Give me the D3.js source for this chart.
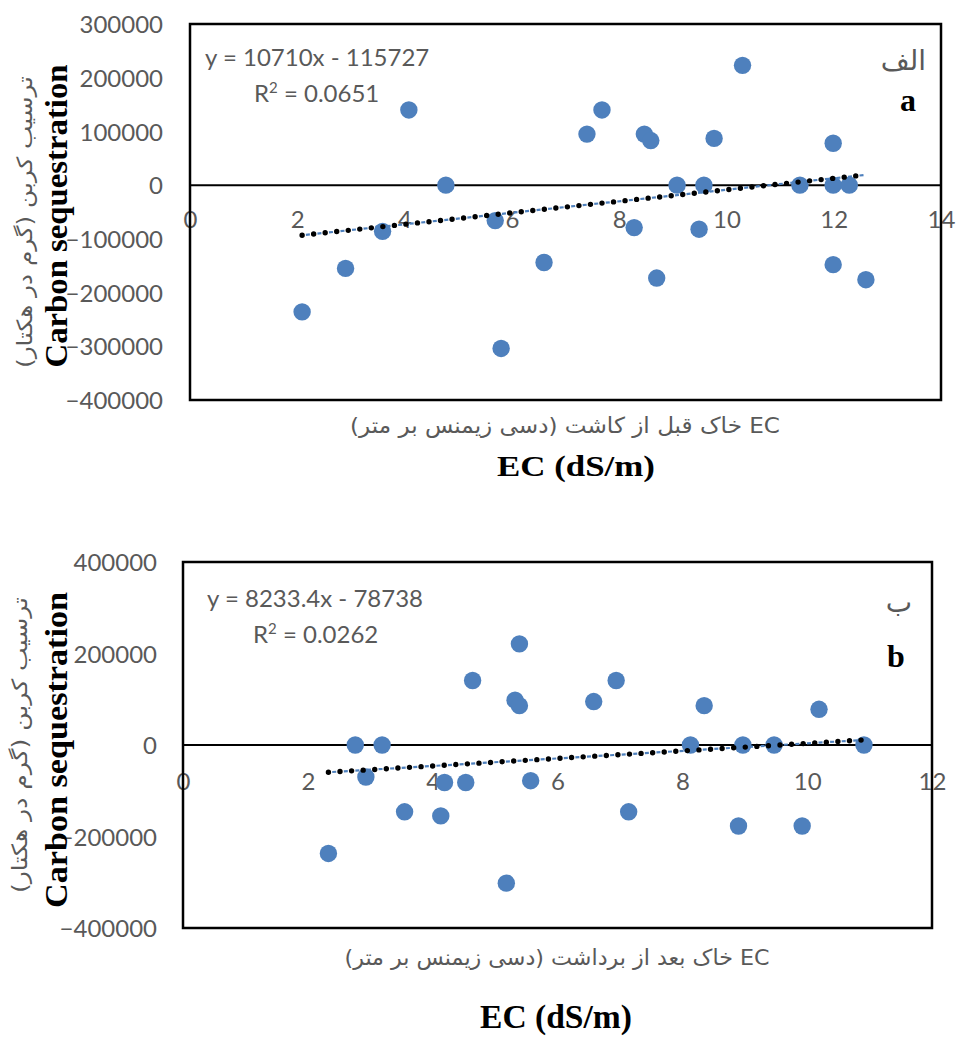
<!DOCTYPE html>
<html>
<head>
<meta charset="utf-8">
<script src="https://cdn.jsdelivr.net/npm/d3@7"></script>
<style>
  html, body { margin: 0; padding: 0; background: #fff; }
  svg { display: block; }
</style>
</head>
<body>
<script>
// ---------- DATA ----------
// Panel a: EC before planting (dS/m) vs carbon sequestration
const ecBefore = [2.09, 2.90, 3.59, 4.08, 4.77, 5.69, 5.80, 6.60, 7.40, 7.68, 8.28, 8.47, 8.59, 8.70, 9.08, 9.49, 9.58, 9.77, 10.30, 11.37, 11.99, 11.99, 11.99, 12.29, 12.60];
const seqBefore = [-236000, -155000, -86000, 140000, 0, -66000, -304000, -144000, 95000, 140000, -79000, 95000, 83000, -173000, 0, -82000, 0, 87000, 223000, 0, 78000, 0, -148000, 0, -176000];
// Panel b: EC after harvest (dS/m) vs carbon sequestration
const ecAfter = [2.33, 2.76, 2.93, 3.19, 3.55, 4.13, 4.19, 4.53, 4.64, 5.18, 5.32, 5.39, 5.39, 5.57, 6.58, 6.94, 7.14, 8.13, 8.35, 8.90, 8.97, 9.47, 9.92, 10.19, 10.91];
const seqAfter = [-237000, 0, -70000, 0, -146000, -155000, -82000, -82000, 141000, -302000, 98000, 221000, 86000, -78000, 95000, 141000, -146000, 0, 86000, -177000, 0, 0, -177000, 78000, 0];

const xTicksA = [0, 2, 4, 6, 8, 10, 12, 14];
const yTicksA = [-400000, -300000, -200000, -100000, 0, 100000, 200000, 300000];
const xTicksB = [0, 2, 4, 6, 8, 10, 12];
const yTicksB = [-400000, -200000, 0, 200000, 400000];

// trendline coefficients (as printed on the chart)
const trendA = { slope: 10710, intercept: -115727, eq: "y = 10710x - 115727", r2: "0.0651" };
const trendB = { slope: 8233.4, intercept: -78738, eq: "y = 8233.4x - 78738", r2: "0.0262" };

const yTitleFa = "ترسیب کربن (گرم در هکتار)";
const yTitleEn = "Carbon sequestration";
const xTitleFaA = "EC خاک قبل از کاشت (دسی زیمنس بر متر)";
const xTitleFaB = "EC خاک بعد از برداشت (دسی زیمنس بر متر)";
const xTitleEn = "EC (dS/m)";

// ---------- DRAW ----------
const W = 956, H = 1037;
const svg = d3.select("body").append("svg").attr("width", W).attr("height", H);

const GRAY = "#595959";
const BLUE = "#4e80bd";
const NUM_FONT = "Lato, 'Open Sans', sans-serif";
const FA_FONT = "'DejaVu Sans', 'Noto Sans', sans-serif";
const SERIF = "'Liberation Serif', 'DejaVu Serif', serif";

function drawPanel(cfg) {
  const g = svg.append("g");
  const x = d3.scaleLinear().domain(d3.extent(cfg.xTicks)).range([cfg.left, cfg.right]);
  const y = d3.scaleLinear().domain(d3.extent(cfg.yTicks)).range([cfg.bottom, cfg.top]);

  // y tick labels
  const yAxis = d3.axisLeft(y).tickValues(cfg.yTicks).tickSize(0).tickPadding(cfg.yPad)
    .tickFormat(d3.format("d"));
  const ya = g.append("g").attr("transform", `translate(${cfg.left},0)`).call(yAxis);
  ya.select(".domain").remove();
  ya.selectAll("text").attr("font-family", NUM_FONT).attr("font-size", 24)
    .attr("fill", GRAY).attr("dy", "0.36em");

  // x tick labels (at y = 0)
  const xAxis = d3.axisBottom(x).tickValues(cfg.xTicks).tickSize(0).tickPadding(cfg.xPad)
    .tickFormat(d3.format("d"));
  const xa = g.append("g").attr("transform", `translate(0,${y(0)})`).call(xAxis);
  xa.select(".domain").remove();
  xa.selectAll("text").attr("font-family", NUM_FONT).attr("font-size", 24)
    .attr("fill", GRAY);

  // zero line
  g.append("line").attr("x1", cfg.left).attr("x2", cfg.right)
    .attr("y1", y(0)).attr("y2", y(0)).attr("stroke", "#000").attr("stroke-width", 2);

  // plot border
  g.append("rect").attr("x", cfg.left).attr("y", cfg.top)
    .attr("width", cfg.right - cfg.left).attr("height", cfg.bottom - cfg.top)
    .attr("fill", "none").attr("stroke", "#000").attr("stroke-width", 2.5);

  // points
  const pts = cfg.xs.map((v, i) => ({ x: v, y: cfg.ys[i] }));
  g.append("g").selectAll("circle").data(pts).join("circle")
    .attr("cx", d => x(d.x)).attr("cy", d => y(d.y)).attr("r", 8.7)
    .attr("fill", BLUE);

  // trendline
  const x0 = d3.min(cfg.xs), x1 = d3.max(cfg.xs);
  const tl = [x0, x1].map(v => ({ x: v, y: cfg.trend.slope * v + cfg.trend.intercept }));
  const line = d3.line().x(d => x(d.x)).y(d => y(d.y));
  g.append("path").attr("d", line(tl)).attr("fill", "none")
    .attr("stroke", BLUE).attr("stroke-width", 2.2).attr("stroke-dasharray", "4 7.6")
    .attr("stroke-dashoffset", -3.8);
  g.append("path").attr("d", line(tl)).attr("fill", "none")
    .attr("stroke", "#000").attr("stroke-width", 5.4).attr("stroke-linecap", "round")
    .attr("stroke-dasharray", "0 11.6");

  // equation
  g.append("text").attr("x", cfg.eqX).attr("y", cfg.eqY).text(cfg.trend.eq)
    .attr("font-family", NUM_FONT).attr("font-size", 24).attr("fill", GRAY);
  const r2 = g.append("text").attr("x", cfg.r2X).attr("y", cfg.eqY + 36)
    .attr("font-family", NUM_FONT).attr("font-size", 24).attr("fill", GRAY);
  r2.append("tspan").text("R");
  r2.append("tspan").text("2").attr("font-size", 15).attr("dy", -9);
  r2.append("tspan").text(" = " + cfg.trend.r2).attr("dy", 9);

  // panel labels
  g.append("text").attr("x", cfg.faLabelX).attr("y", cfg.faLabelY).text(cfg.faLabel)
    .attr("text-anchor", "end").attr("font-family", FA_FONT).attr("font-size", 28)
    .attr("fill", GRAY);
  g.append("text").attr("x", cfg.enLabelX).attr("y", cfg.enLabelY).text(cfg.enLabel)
    .attr("text-anchor", "middle").attr("font-family", SERIF).attr("font-weight", "bold")
    .attr("font-size", 32).attr("fill", "#000");

  // y titles
  g.append("text").attr("transform", `translate(${cfg.yFaX},${cfg.yFaCy}) rotate(-90)`)
    .attr("text-anchor", "middle").attr("direction", "rtl").text(yTitleFa)
    .attr("font-family", FA_FONT).attr("font-size", 21).attr("fill", GRAY)
    .attr("textLength", cfg.yFaLen).attr("lengthAdjust", "spacingAndGlyphs");
  g.append("text").attr("transform", `translate(${cfg.yEnX},${cfg.yEnCy}) rotate(-90)`)
    .attr("text-anchor", "middle").text(yTitleEn)
    .attr("font-family", SERIF).attr("font-weight", "bold").attr("font-size", 31).attr("fill", "#000")
    .attr("textLength", cfg.yEnLen).attr("lengthAdjust", "spacingAndGlyphs");

  // x titles
  g.append("text").attr("x", cfg.xFaCx).attr("y", cfg.xFaY).attr("text-anchor", "middle")
    .attr("direction", "rtl")
    .text(cfg.xTitleFa).attr("font-family", FA_FONT).attr("font-size", 22).attr("fill", GRAY)
    .attr("textLength", cfg.xFaLen).attr("lengthAdjust", "spacingAndGlyphs");
  g.append("text").attr("x", cfg.xEnCx).attr("y", cfg.xEnY).attr("text-anchor", "middle")
    .text(xTitleEn).attr("font-family", SERIF).attr("font-weight", "bold")
    .attr("font-size", cfg.xEnSize).attr("fill", "#000")
    .attr("textLength", cfg.xEnLen).attr("lengthAdjust", "spacingAndGlyphs");
}

drawPanel({
  xs: ecBefore, ys: seqBefore, xTicks: xTicksA, yTicks: yTicksA, trend: trendA,
  left: 190, right: 941, top: 24, bottom: 400, yPad: 27, xPad: 26,
  eqX: 205, eqY: 66, r2X: 254,
  faLabel: "الف", faLabelX: 926, faLabelY: 70, enLabel: "a", enLabelX: 908, enLabelY: 111,
  yFaX: 32, yFaCy: 222, yFaLen: 292, yEnX: 67, yEnCy: 216, yEnLen: 303,
  xTitleFa: xTitleFaA, xFaCx: 565, xFaY: 433, xFaLen: 430,
  xEnCx: 576, xEnY: 476, xEnSize: 30, xEnLen: 158
});

drawPanel({
  xs: ecAfter, ys: seqAfter, xTicks: xTicksB, yTicks: yTicksB, trend: trendB,
  left: 183, right: 932, top: 562, bottom: 928, yPad: 26, xPad: 28,
  eqX: 207, eqY: 607, r2X: 253,
  faLabel: "ب", faLabelX: 912, faLabelY: 612, enLabel: "b", enLabelX: 896, enLabelY: 667,
  yFaX: 27, yFaCy: 745, yFaLen: 296, yEnX: 67, yEnCy: 750, yEnLen: 316,
  xTitleFa: xTitleFaB, xFaCx: 557, xFaY: 965, xFaLen: 425,
  xEnCx: 556, xEnY: 1028, xEnSize: 33, xEnLen: 152
});
</script>
</body>
</html>
